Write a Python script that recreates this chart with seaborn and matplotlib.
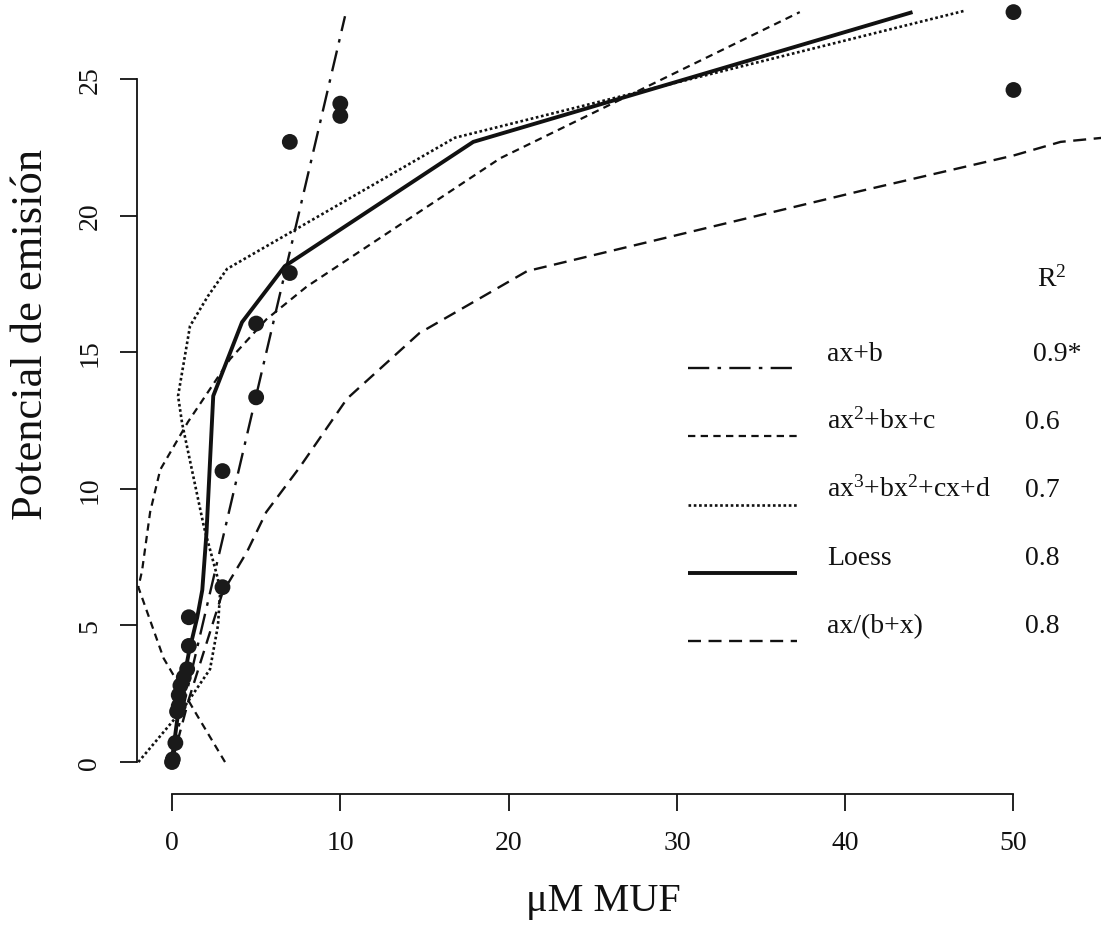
import matplotlib
matplotlib.use("Agg")
import matplotlib.pyplot as plt
import seaborn as sns
import pandas as pd
from matplotlib.lines import Line2D

# ---------------- data ----------------
pts_x = [0.0, 0.05, 0.2, 0.3, 0.4, 0.4, 0.5, 0.7, 0.9, 1.0, 1.0,
         3.0, 3.0, 5.0, 5.0, 7.0, 7.0, 10.0, 10.0, 50.0, 50.0]
pts_y = [0.0, 0.1, 0.7, 1.85, 2.05, 2.45, 2.8, 3.1, 3.4, 4.25, 5.3,
         6.4, 10.65, 13.35, 16.05, 17.9, 22.7, 23.65, 24.1, 27.45, 24.6]

lin_x = [0.0, 10.28]
lin_y = [0.25, 27.3]

quad_x = [3.15, 1.5, -0.5, -2.0, -1.78, -1.3, -0.7, 0.95, 3.45, 5.6, 8.0, 19.5, 37.3]
quad_y = [0.0, 1.7, 3.8, 6.4, 7.0, 9.15, 10.7, 12.45, 14.75, 16.2, 17.4, 22.1, 27.45]

cub_x = [-2.0, 0.65, 2.26, 2.73, 2.85, 2.73, 1.9, 0.6, 0.36, 1.07, 2.14, 3.27, 16.8, 47.1]
cub_y = [0.0, 1.94, 3.4, 5.0, 6.1, 6.7, 8.6, 12.4, 13.4, 15.96, 17.06, 18.05, 22.85, 27.5]

loess_x = [0.0, 0.3, 0.6, 1.0, 1.5, 1.8, 2.05, 2.45, 4.16, 6.7, 17.9, 44.0]
loess_y = [0.1, 1.5, 2.7, 4.0, 5.3, 6.3, 8.4, 13.4, 16.1, 18.15, 22.7, 27.45]

mm_x = [0.0, 1.0, 3.0, 4.46, 5.6, 7.6, 10.4, 14.7, 21.1, 40.9, 50.0, 52.8, 55.3]
mm_y = [0.0, 2.3, 6.2, 7.7, 9.15, 10.8, 13.3, 15.7, 17.97, 20.9, 22.2, 22.7, 22.85]

legend_labels = ["ax+b", "ax$^{2}$+bx+c", "ax$^{3}$+bx$^{2}$+cx+d", "Loess", "ax/(b+x)"]
r2_values = ["0.9*", "0.6", "0.7", "0.8", "0.8"]

xticks = [0, 10, 20, 30, 40, 50]
yticks = [0, 5, 10, 15, 20, 25]

# ---------------- styling ----------------
sns.set_theme(style="ticks")
plt.rcParams["font.family"] = ["Liberation Serif", "DejaVu Serif"]
plt.rcParams["mathtext.fontset"] = "custom"
plt.rcParams["mathtext.rm"] = "Liberation Serif"
plt.rcParams["mathtext.it"] = "Liberation Serif:italic"

INK = "#111111"
W, H = 1101, 928
fig = plt.figure(figsize=(W / 100, H / 100), dpi=100)
fig.patch.set_facecolor("white")
ax = fig.add_axes([137 / W, 1 - 795 / H, 964 / W, 795 / H])
ax.set_facecolor("white")

styles = [
    (lin_x, lin_y, (9, 3.5, 1.5, 3.5), 1.7),
    (quad_x, quad_y, (3.3, 2.4), 1.6),
    (cub_x, cub_y, (1.0, 1.0), 1.9),
    (loess_x, loess_y, None, 2.8),
    (mm_x, mm_y, (5.5, 3.2), 1.7),
]

for xs, ys, dash, lw in styles:
    df = pd.DataFrame({"x": xs, "y": ys})
    sns.lineplot(data=df, x="x", y="y", sort=False, estimator=None,
                 color=INK, linewidth=lw, ax=ax, zorder=2)
    line = ax.lines[-1]
    if dash is not None:
        line.set_dashes(dash)
    line.set_solid_capstyle("butt")

sns.scatterplot(x=pts_x, y=pts_y, s=130, color="#1a1a1a", edgecolor="none",
                ax=ax, zorder=3)

ax.set_xlim(-2.08, 55.2)
ax.set_ylim(-1.17, 27.93)
ax.set_xticks(xticks)
ax.set_yticks(yticks)
ax.set_xticklabels([str(t) for t in xticks])
ax.set_yticklabels([str(t) for t in yticks], rotation=90, va="center")

for s in ["top", "right"]:
    ax.spines[s].set_visible(False)
ax.spines["left"].set_bounds(0, 25)
ax.spines["bottom"].set_bounds(0, 50)
for s in ["left", "bottom"]:
    ax.spines[s].set_linewidth(1.3)
    ax.spines[s].set_color(INK)

ax.tick_params(axis="x", length=12, width=1.3, pad=14, labelsize=20, colors=INK)
ax.tick_params(axis="y", length=12, width=1.3, pad=13, labelsize=20, colors=INK)

ax.set_xlabel("\u03bcM MUF", fontsize=29, color=INK)
ax.set_ylabel("Potencial de emisi\u00f3n", fontsize=32, color=INK)
ax.xaxis.label.set_va("center")
ax.yaxis.label.set_va("center")
ax.xaxis.set_label_coords((603 - 137) / 964, (795 - 902) / 795)
ax.yaxis.set_label_coords((31 - 137) / 964, (795 - 335) / 795)

# ---------------- manual legend (R style) ----------------
def fx(px):
    return (px - 137) / 964


def fy(py):
    return (795 - py) / 795


ax.text(fx(1037), fy(287), "R$^{2}$", fontsize=20, color=INK,
        ha="left", va="baseline", transform=ax.transAxes)
for i, ((_, _, dash, lw), lab, r2) in enumerate(zip(styles, legend_labels, r2_values)):
    ly = 369 + i * 68.3
    ty = 361 + i * 68.0
    ln = Line2D([fx(688), fx(797)], [fy(ly), fy(ly)], transform=ax.transAxes,
                color=INK, linewidth=lw, clip_on=False, solid_capstyle="butt")
    if dash is not None:
        ln.set_dashes(dash)
    ax.add_line(ln)
    ax.text(fx(827), fy(ty), lab, fontsize=20, color=INK, ha="left",
            va="baseline", transform=ax.transAxes)
    ax.text(fx(1033 if r2.endswith("*") else 1025), fy(ty), r2, fontsize=20,
            color=INK, ha="left", va="baseline", transform=ax.transAxes)

fig.savefig("out.png", dpi=100, facecolor="white")
